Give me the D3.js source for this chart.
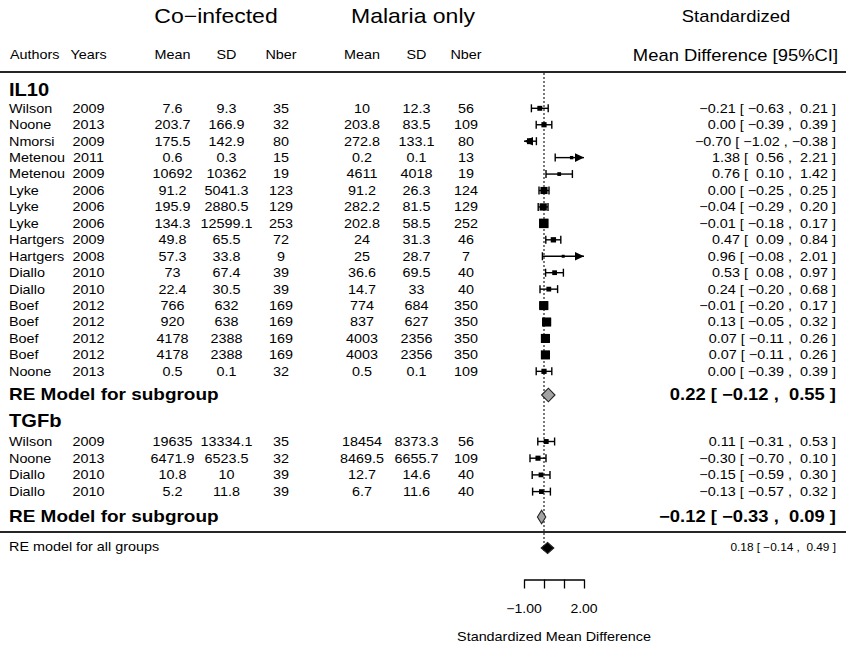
<!DOCTYPE html>
<html>
<head>
<meta charset="utf-8">
<script src="https://cdn.jsdelivr.net/npm/d3@7"></script>
<style>
  html, body { margin: 0; padding: 0; background: #fff; }
  svg { display: block; }
  text { font-family: "Liberation Sans", Arial, Helvetica, sans-serif; white-space: pre; fill: #000; }
</style>
</head>
<body>
<svg id="chart" width="846" height="646"></svg>
<script>
// ---- study data -------------------------------------------------------
const authors = ["Wilson", "Noone", "Nmorsi", "Metenou", "Metenou", "Lyke", "Lyke", "Lyke",
  "Hartgers", "Hartgers", "Diallo", "Diallo", "Boef", "Boef", "Boef", "Boef", "Noone",
  "Wilson", "Noone", "Diallo", "Diallo"];
const years = [2009, 2013, 2009, 2011, 2009, 2006, 2006, 2006, 2009, 2008, 2010, 2010,
  2012, 2012, 2012, 2012, 2013, 2009, 2013, 2010, 2010];
const cytokine = ["IL10", "IL10", "IL10", "IL10", "IL10", "IL10", "IL10", "IL10", "IL10", "IL10",
  "IL10", "IL10", "IL10", "IL10", "IL10", "IL10", "IL10", "TGFb", "TGFb", "TGFb", "TGFb"];

// co-infected group
const coMean = [7.6, 203.7, 175.5, 0.6, 10692, 91.2, 195.9, 134.3, 49.8, 57.3, 73, 22.4,
  766, 920, 4178, 4178, 0.5, 19635, 6471.9, 10.8, 5.2];
const coSD = [9.3, 166.9, 142.9, 0.3, 10362, 5041.3, 2880.5, 12599.1, 65.5, 33.8, 67.4, 30.5,
  632, 638, 2388, 2388, 0.1, 13334.1, 6523.5, 10, 11.8];
const coN = [35, 32, 80, 15, 19, 123, 129, 253, 72, 9, 39, 39, 169, 169, 169, 169, 32, 35, 32, 39, 39];

// malaria-only group
const maMean = [10, 203.8, 272.8, 0.2, 4611, 91.2, 282.2, 202.8, 24, 25, 36.6, 14.7,
  774, 837, 4003, 4003, 0.5, 18454, 8469.5, 12.7, 6.7];
const maSD = [12.3, 83.5, 133.1, 0.1, 4018, 26.3, 81.5, 58.5, 31.3, 28.7, 69.5, 33,
  684, 627, 2356, 2356, 0.1, 8373.3, 6655.7, 14.6, 11.6];
const maN = [56, 109, 80, 13, 19, 124, 129, 252, 46, 7, 40, 40, 350, 350, 350, 350, 109, 56, 109, 40, 40];

// standardized mean differences with 95% CI
const smd = [-0.21, 0.00, -0.70, 1.38, 0.76, 0.00, -0.04, -0.01, 0.47, 0.96, 0.53, 0.24,
  -0.01, 0.13, 0.07, 0.07, 0.00, 0.11, -0.30, -0.15, -0.13];
const smdLo = [-0.63, -0.39, -1.02, 0.56, 0.10, -0.25, -0.29, -0.18, 0.09, -0.08, 0.08, -0.20,
  -0.20, -0.05, -0.11, -0.11, -0.39, -0.31, -0.70, -0.59, -0.57];
const smdHi = [0.21, 0.39, -0.38, 2.21, 1.42, 0.25, 0.20, 0.17, 0.84, 2.01, 0.97, 0.68,
  0.17, 0.32, 0.26, 0.26, 0.39, 0.53, 0.10, 0.30, 0.32];

// random-effects summaries
const groups = ["IL10", "TGFb"];
const groupSmd = [0.22, -0.12];
const groupLo = [-0.12, -0.33];
const groupHi = [0.55, 0.09];
const overallSmd = 0.18, overallLo = -0.14, overallHi = 0.49;

// x axis
const axisTicks = [-1, 0, 1, 2];
const axisLabelled = [-1, 2];

// ---- layout ------------------------------------------------------------
const svg = d3.select("#chart");
const SX = 1.15;                      // horizontal stretch of the lettering
const fmt = d3.format(".2f");
const x = d3.scaleLinear().domain([-1, 2]).range([524, 584]);

const block = {
  IL10: { head: 90, first: 108.3, step: 16.44, summary: 395 },
  TGFb: { head: 421, first: 441.5, step: 16.7, summary: 517 }
};
const sepY = 532, overallY = 548;

const col = { author: 9, year: 88.5, coMean: 172.5, coSD: 226.5, coN: 281,
  maMean: 362, maSD: 416.5, maN: 466, ann: 836 };

function label(str, px, py, size, anchor, weight) {
  return svg.append("text")
    .attr("transform", `translate(${px},${py}) scale(${SX},1)`)
    .attr("dy", "0.35em")
    .attr("text-anchor", anchor || "start")
    .attr("font-size", size)
    .attr("font-weight", weight || "normal")
    .text(str);
}

function ciText(e, l, h) {
  return fmt(e) + " [" + fmt(l).padStart(6) + " ," + fmt(h).padStart(6) + " ]";
}

// row positions within each cytokine block
const counter = {};
const rowY = cytokine.map(c => {
  counter[c] = (counter[c] || 0);
  const y = block[c].first + counter[c] * block[c].step;
  counter[c]++;
  return y;
});

// ---- headers ------------------------------------------------------------
label("Co\u2212infected", 216, 16, 20, "middle");
label("Malaria only", 413, 16, 20, "middle");
label("Standardized", 736, 16, 16, "middle");
label("Mean Difference [95%CI]", 838, 55, 16, "end");

const HY = 55, FS = 12.5;
label("Authors", 10, HY, FS);
label("Years", col.year, HY, FS, "middle");
[["Mean", col.coMean], ["SD", col.coSD], ["Nber", col.coN],
 ["Mean", col.maMean], ["SD", col.maSD], ["Nber", col.maN]]
  .forEach(([t, cx]) => label(t, cx, HY, FS, "middle"));

// separating rules
[72, sepY].forEach(yy => svg.append("line")
  .attr("x1", 0).attr("x2", 846).attr("y1", yy).attr("y2", yy)
  .attr("stroke", "#262626").attr("stroke-width", 2.2));

// reference line at zero
svg.append("line")
  .attr("x1", x(0)).attr("x2", x(0)).attr("y1", 73).attr("y2", overallY + 5)
  .attr("stroke", "#333").attr("stroke-width", 1.3).attr("stroke-dasharray", "2,2");

// ---- study rows --------------------------------------------------------
const weight = smd.map((d, i) => 3.92 / (smdHi[i] - smdLo[i]));
const wScale = d3.scaleLinear().domain(d3.extent(weight)).range([3, 9.5]);

smd.forEach((d, i) => {
  const y = rowY[i];
  label(authors[i], col.author, y, FS);
  label(String(years[i]), col.year, y, FS, "middle");
  label(String(coMean[i]), col.coMean, y, FS, "middle");
  label(String(coSD[i]), col.coSD, y, FS, "middle");
  label(String(coN[i]), col.coN, y, FS, "middle");
  label(String(maMean[i]), col.maMean, y, FS, "middle");
  label(String(maSD[i]), col.maSD, y, FS, "middle");
  label(String(maN[i]), col.maN, y, FS, "middle");
  label(ciText(d, smdLo[i], smdHi[i]), col.ann, y, FS, "end");

  const [dMin, dMax] = x.domain();
  const lo = Math.max(smdLo[i], dMin), hi = Math.min(smdHi[i], dMax);
  const g = svg.append("g").attr("stroke", "#000").attr("stroke-width", 1.4).attr("fill", "#000");
  g.append("line").attr("x1", x(lo)).attr("x2", x(hi)).attr("y1", y).attr("y2", y);
  if (smdLo[i] < dMin) {
    g.append("path").attr("stroke", "none")
      .attr("d", `M${x(dMin)},${y}L${x(dMin) + 9},${y - 4.3}L${x(dMin) + 9},${y + 4.3}Z`);
  } else {
    g.append("line").attr("x1", x(lo)).attr("x2", x(lo)).attr("y1", y - 4).attr("y2", y + 4);
  }
  if (smdHi[i] > dMax) {
    g.append("path").attr("stroke", "none")
      .attr("d", `M${x(dMax)},${y}L${x(dMax) - 9},${y - 4.3}L${x(dMax) - 9},${y + 4.3}Z`);
  } else {
    g.append("line").attr("x1", x(hi)).attr("x2", x(hi)).attr("y1", y - 4).attr("y2", y + 4);
  }
  const s = wScale(weight[i]);
  g.append("rect").attr("stroke", "none")
    .attr("x", x(d) - s / 2).attr("y", y - s / 2).attr("width", s).attr("height", s);
});

// ---- subgroup headings and summaries -------------------------------------
function diamond(e, l, h, y, half, fill) {
  svg.append("path")
    .attr("d", `M${x(l)},${y}L${x(e)},${y - half}L${x(h)},${y}L${x(e)},${y + half}Z`)
    .attr("fill", fill).attr("stroke", "#222").attr("stroke-width", 1.1);
}

groups.forEach((gname, k) => {
  const b = block[gname];
  label(gname, 9, b.head, 17.5, "start", "bold");
  label("RE Model for subgroup", 9, b.summary - 1, 16.5, "start", "bold");
  label(ciText(groupSmd[k], groupLo[k], groupHi[k]), col.ann, b.summary - 1, 16, "end", "bold");
  diamond(groupSmd[k], groupLo[k], groupHi[k], b.summary, 6.8, "#a3a3a3");
});

// overall
label("RE model for all groups", 9, overallY - 1, FS);
label(ciText(overallSmd, overallLo, overallHi), col.ann, overallY - 1, 10.3, "end");
diamond(overallSmd, overallLo, overallHi, overallY, 5.6, "#000");

// ---- x axis --------------------------------------------------------------
const axisG = svg.append("g")
  .attr("transform", "translate(0,579.5)")
  .call(d3.axisBottom(x)
    .tickValues(axisTicks)
    .tickSize(9)
    .tickSizeOuter(0)
    .tickPadding(8)
    .tickFormat(v => axisLabelled.includes(v) ? fmt(v) : ""));
axisG.select(".domain").attr("stroke", "#000").attr("stroke-width", 1.3);
axisG.selectAll(".tick line").attr("stroke", "#000").attr("stroke-width", 1.3);
axisG.selectAll(".tick text").remove();
axisTicks.filter(v => axisLabelled.includes(v))
  .forEach(v => label(fmt(v), x(v), 609, 12.2, "middle"));

label("Standardized Mean Difference", 554, 636.5, 12.5, "middle");
</script>
</body>
</html>
